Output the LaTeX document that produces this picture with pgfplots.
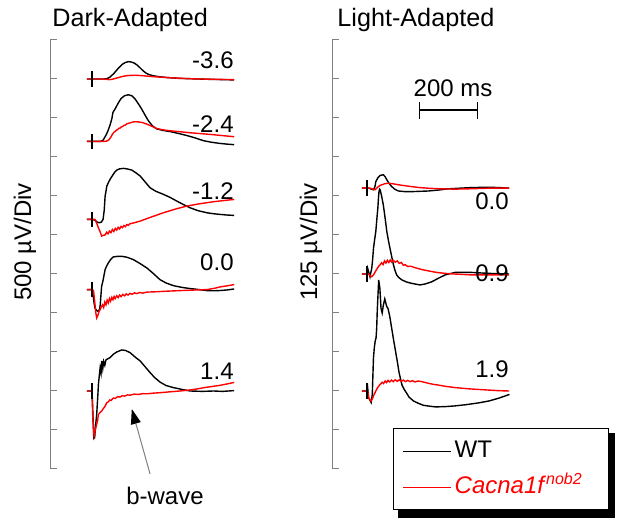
\documentclass[border=0pt]{standalone}
\usepackage{fontspec}
\setmainfont{Liberation Sans}
\usepackage{pgfplots}
\pgfplotsset{compat=1.18}
\usetikzlibrary{arrows.meta}

\pgfplotsset{
  erg/.style={
    anchor=south west, scale only axis, clip=false,
    height=214.5pt,
    axis x line=none, axis y line*=left,
    xtick=\empty, yticklabels={},
    tick align=inside, major tick length=3.5pt,
    y axis line style={gray, line width=0.5pt},
    ytick style={gray, line width=0.5pt},
    ymin=0,
  },
  wt/.style={black, line width=0.7pt, forget plot, y filter/.expression={y+#1}},
  mut/.style={red, line width=0.7pt, forget plot, y filter/.expression={y+#1}},
}

\begin{document}
\begin{tikzpicture}[font=\fontsize{12}{14}\selectfont]
\useasboundingbox (0,0) rectangle (312pt,264pt);

% ---------------- dark-adapted, 500 uV/div ----------------
\begin{axis}[erg, at={(25pt,29.5pt)}, width=95pt,
  xmin=-145, xmax=510, ymax=5500, ytick={0,500,...,5500}]

% -3.6
\addplot[wt=5000] coordinates {(-18,0) (0,0) (40,0) (52,5) (62,25) (75,70) (90,135) (105,190) (115,212) (125,222) (135,218) (145,205) (155,180) (165,145) (175,108) (185,78) (195,58) (210,42) (230,30) (260,18) (300,8) (350,2) (400,-4) (450,-8) (490,-12)};
\addplot[mut=5000] coordinates {(-18,0) (0,0) (40,0) (50,-5) (60,-8) (70,-3) (85,12) (100,28) (115,40) (130,46) (150,48) (175,42) (210,30) (250,20) (300,10) (350,2) (400,-2) (450,-6) (490,-8)};

% -2.4
\addplot[wt=4200] coordinates {(-18,0) (0,0) (30,0) (38,15) (48,80) (55,137) (62,210) (68,287) (72,372) (80,420) (90,490) (100,550) (112,585) (125,598) (137,585) (148,545) (160,480) (171,415) (183,335) (194,265) (208,200) (223,160) (245,140) (270,125) (300,100) (327,75) (355,45) (383,10) (410,-10) (441,-26) (465,-35) (490,-42)};
\addplot[mut=4200] coordinates {(-18,0) (0,0) (40,0) (50,3) (58,20) (64,50) (70,90) (76,120) (80,128) (84,145) (88,150) (92,168) (96,170) (100,185) (105,190) (110,205) (115,210) (120,225) (130,236) (140,248) (150,252) (160,250) (175,240) (190,220) (205,195) (223,165) (250,145) (280,132) (303,124) (340,110) (380,98) (418,86) (455,72) (490,60)};

% -1.2
\addplot[wt=3200] coordinates {(-18,0) (0,0) (10,-10) (18,-35) (24,-43) (32,-35) (38,0) (42,120) (45,299) (48,360) (51,427) (56,470) (62,513) (70,560) (78,605) (85,632) (95,648) (108,654) (120,648) (137,632) (150,600) (166,555) (183,480) (200,405) (220,360) (246,321) (270,280) (292,235) (315,190) (338,149) (365,112) (396,85) (420,72) (441,64) (465,56) (490,51)};
\addplot[mut=3200] coordinates {(-18,0) (0,0) (10,0) (16,-50) (22,-108) (28,-160) (33,-214) (38,-205) (45,-200) (50,-165) (55,-185) (60,-150) (65,-170) (70,-130) (75,-155) (80,-115) (85,-138) (90,-102) (95,-122) (100,-90) (105,-106) (110,-78) (115,-92) (120,-66) (125,-76) (130,-56) (140,-48) (150,-38) (166,-22) (200,25) (246,85) (290,135) (327,171) (370,200) (418,226) (455,242) (490,256)};

% 0.0
\addplot[wt=2300] coordinates {(-18,0) (0,0) (3,-50) (6,-150) (10,-236) (16,-270) (22,-280) (26,-250) (28,-200) (30,-100) (33,42) (38,120) (42,200) (45,256) (50,300) (56,341) (64,385) (73,418) (85,425) (102,427) (120,415) (142,385) (165,335) (189,277) (210,210) (234,128) (255,85) (280,51) (310,28) (338,13) (365,2) (396,-13) (420,-15) (441,-12) (465,-5) (490,8)};
\addplot[mut=2300] coordinates {(-18,0) (0,0) (5,-13) (9,-150) (13,-300) (16,-364) (20,-330) (24,-280) (28,-256) (32,-220) (36,-195) (40,-230) (44,-160) (48,-195) (52,-135) (56,-170) (60,-115) (64,-148) (68,-100) (72,-130) (76,-88) (80,-115) (85,-78) (90,-103) (95,-70) (100,-90) (106,-62) (112,-80) (118,-55) (124,-70) (131,-48) (138,-60) (146,-42) (154,-52) (164,-37) (175,-45) (189,-32) (220,-28) (260,-20) (303,-13) (350,-6) (396,0) (420,15) (441,34) (465,48) (490,64)};

% 1.4
\addplot[wt=1000] coordinates {(-18,0) (0,0) (3,-300) (6,-607) (9,-598) (12,-450) (16,-299) (20,-50) (22,86) (25,200) (28,300) (31,230) (34,385) (37,290) (40,380) (44,330) (48,400) (53,410) (62,428) (73,470) (85,500) (102,526) (115,520) (131,492) (150,430) (166,385) (183,310) (200,236) (215,175) (234,115) (255,70) (280,44) (310,20) (338,0) (380,-5) (418,0) (450,-5) (490,5)};
\addplot[mut=1000] coordinates {(-18,0) (0,0) (2,-300) (5,-500) (7,-577) (10,-520) (13,-470) (16,-427) (19,-380) (22,-299) (27,-280) (33,-256) (38,-230) (44,-200) (51,-149) (56,-140) (61,-115) (66,-120) (73,-90) (80,-95) (88,-72) (96,-78) (104,-60) (112,-66) (122,-50) (131,-54) (145,-40) (160,-44) (175,-34) (189,-36) (210,-28) (240,-20) (270,-10) (303,0) (330,10) (360,25) (390,45) (418,60) (440,72) (465,90) (490,110)};

% stimulus markers
\addplot[wt=5000] coordinates {(0,-100) (0,100)};
\addplot[wt=4200] coordinates {(0,-100) (0,100)};
\addplot[wt=3200] coordinates {(0,-100) (0,100)};
\addplot[wt=2300] coordinates {(0,-100) (0,100)};
\addplot[wt=1000] coordinates {(0,-100) (0,100)};

% b-wave arrow
\addplot[gray, line width=0.5pt, forget plot,
  -{Triangle[length=7.5pt,width=5pt,black]}] coordinates {(200,-64) (137,769)};
\end{axis}

% legend shadow, under the legend box
\begin{scope}[x=0.5pt, y=-0.5pt, yshift=264pt]
\fill[black] (398,433.5) rectangle (614.7,518.3);
\end{scope}

% ---------------- light-adapted, 125 uV/div ----------------
\begin{axis}[erg, at={(166pt,29.5pt)}, width=91.5pt,
  xmin=-121, xmax=510, ymax=1375, ytick={0,125,...,1375},
  legend cell align=left,
  legend style={at={(0.332,0.0956)}, anchor=north west,
    draw=black, line width=0.65pt, fill=white,
    inner xsep=4.5pt, inner ysep=4.3pt, row sep=4pt, column sep=0.5pt,
    font=\fontsize{12}{14}\selectfont,
    nodes={inner sep=1pt, text height=9pt, text depth=3pt},
    /tikz/every even column/.append style={text width=71.4pt}},
  legend image code/.code={\draw[#1, line width=0.65pt] (0pt,0pt) -- (24pt,0pt);}]

\addlegendimage{black}
\addlegendentry{WT}
\addlegendimage{red}
\addlegendentry{\textcolor{red}{\textit{Cacna1f}\textsuperscript{\textit{nob2}}}}

% 0.0
\addplot[wt=900] coordinates {(-18,0) (0,0) (5,0) (15,-3) (22,-5) (27,5) (30,21) (37,33) (45,41) (56,43) (62,37) (68,27) (76,15) (85,5) (95,-3) (108,-9) (130,-11) (154,-11) (183,-10) (211,-9) (245,-6) (280,-2) (320,0) (361,2) (418,3) (455,2) (490,0)};
\addplot[mut=900] coordinates {(-18,0) (0,0) (11,0) (20,-3) (28,-5) (36,3) (45,9) (60,14) (73,16) (90,14) (108,11) (130,8) (154,5) (180,2) (211,0) (250,-2) (303,-3) (350,-2) (418,0) (490,0)};

% 0.9
\addplot[wt=625] coordinates {(-18,0) (0,0) (2,18) (6,5) (10,-9) (13,5) (16,18) (19,45) (22,82) (26,110) (30,136) (34,180) (37,211) (39,240) (41,264) (43,272) (45,270) (50,250) (56,221) (62,180) (68,136) (74,105) (79,82) (85,55) (91,29) (96,12) (102,-3) (110,-12) (120,-19) (137,-26) (154,-30) (170,-33) (183,-35) (200,-32) (223,-25) (245,-14) (269,-3) (303,5) (361,5) (418,2) (490,0)};
\addplot[mut=625] coordinates {(-18,0) (0,0) (5,0) (10,-5) (16,-9) (22,-3) (28,7) (35,18) (40,25) (45,30) (50,36) (55,30) (60,42) (65,35) (70,44) (75,37) (80,45) (85,38) (90,44) (97,38) (104,42) (111,34) (118,37) (125,28) (131,30) (140,24) (150,25) (166,20) (190,14) (211,10) (240,5) (269,2) (300,0) (361,-3) (420,-3) (490,-3)};

% 1.9
\addplot[wt=250] coordinates {(-18,0) (0,0) (2,10) (5,-21) (10,-30) (14,-37) (18,-11) (20,50) (22,107) (25,140) (28,160) (31,171) (33,200) (35,256) (37,297) (40,356) (44,330) (48,265) (52,250) (56,275) (61,295) (65,280) (68,270) (72,265) (78,240) (85,200) (92,160) (98,128) (105,90) (110,60) (115,40) (120,20) (128,5) (135,-5) (145,-20) (160,-32) (178,-40) (195,-46) (210,-48) (236,-51) (270,-50) (300,-48) (340,-44) (385,-38) (420,-32) (454,-23) (491,-11)};
\addplot[mut=250] coordinates {(-18,0) (0,0) (3,-5) (5,-21) (10,-28) (14,-32) (18,-25) (22,-16) (26,-8) (30,0) (37,12) (45,21) (52,28) (57,24) (62,32) (67,27) (72,34) (78,29) (84,35) (90,30) (97,36) (104,31) (111,36) (118,31) (125,35) (132,30) (140,34) (148,30) (156,33) (165,29) (175,32) (189,30) (210,25) (230,21) (246,19) (270,15) (303,11) (350,7) (418,3) (455,1) (490,0)};

% stimulus markers
\addplot[wt=900] coordinates {(0,-25) (0,25)};
\addplot[wt=625] coordinates {(0,-25) (0,25)};
\addplot[wt=250] coordinates {(0,-25) (0,25)};

% 200 ms scale bar
\addplot[wt=1150] coordinates {(180,0) (380,0)};
\addplot[wt=1150] coordinates {(180,-27) (180,27)};
\addplot[wt=1150] coordinates {(380,-27) (380,27)};
\end{axis}

% ---------------- text, in pixel units of the reference ----------------
\begin{scope}[x=0.5pt, y=-0.5pt, yshift=264pt, every node/.style={inner sep=0pt}]
\node[anchor=base west, font=\fontsize{12.6}{14}\selectfont] at (52,26.7) {Dark-Adapted};
\node[anchor=base west, font=\fontsize{12.6}{14}\selectfont] at (337,26.7) {Light-Adapted};
\node[anchor=base, rotate=90] at (31,242) {500 µV/Div};
\node[anchor=base, rotate=90] at (317,242) {125 µV/Div};
\node[anchor=base east] at (234,69) {-3.6};
\node[anchor=base east] at (234,133) {-2.4};
\node[anchor=base east] at (234,200) {-1.2};
\node[anchor=base east] at (234,271) {0.0};
\node[anchor=base east] at (234,380) {1.4};
\node[anchor=base east] at (509,210) {0.0};
\node[anchor=base east] at (509,281.7) {0.9};
\node[anchor=base east] at (509,378) {1.9};
\node[anchor=base] at (453,96.7) {200 ms};
\node[anchor=base] at (165,504) {b-wave};
\end{scope}
\end{tikzpicture}
\end{document}
